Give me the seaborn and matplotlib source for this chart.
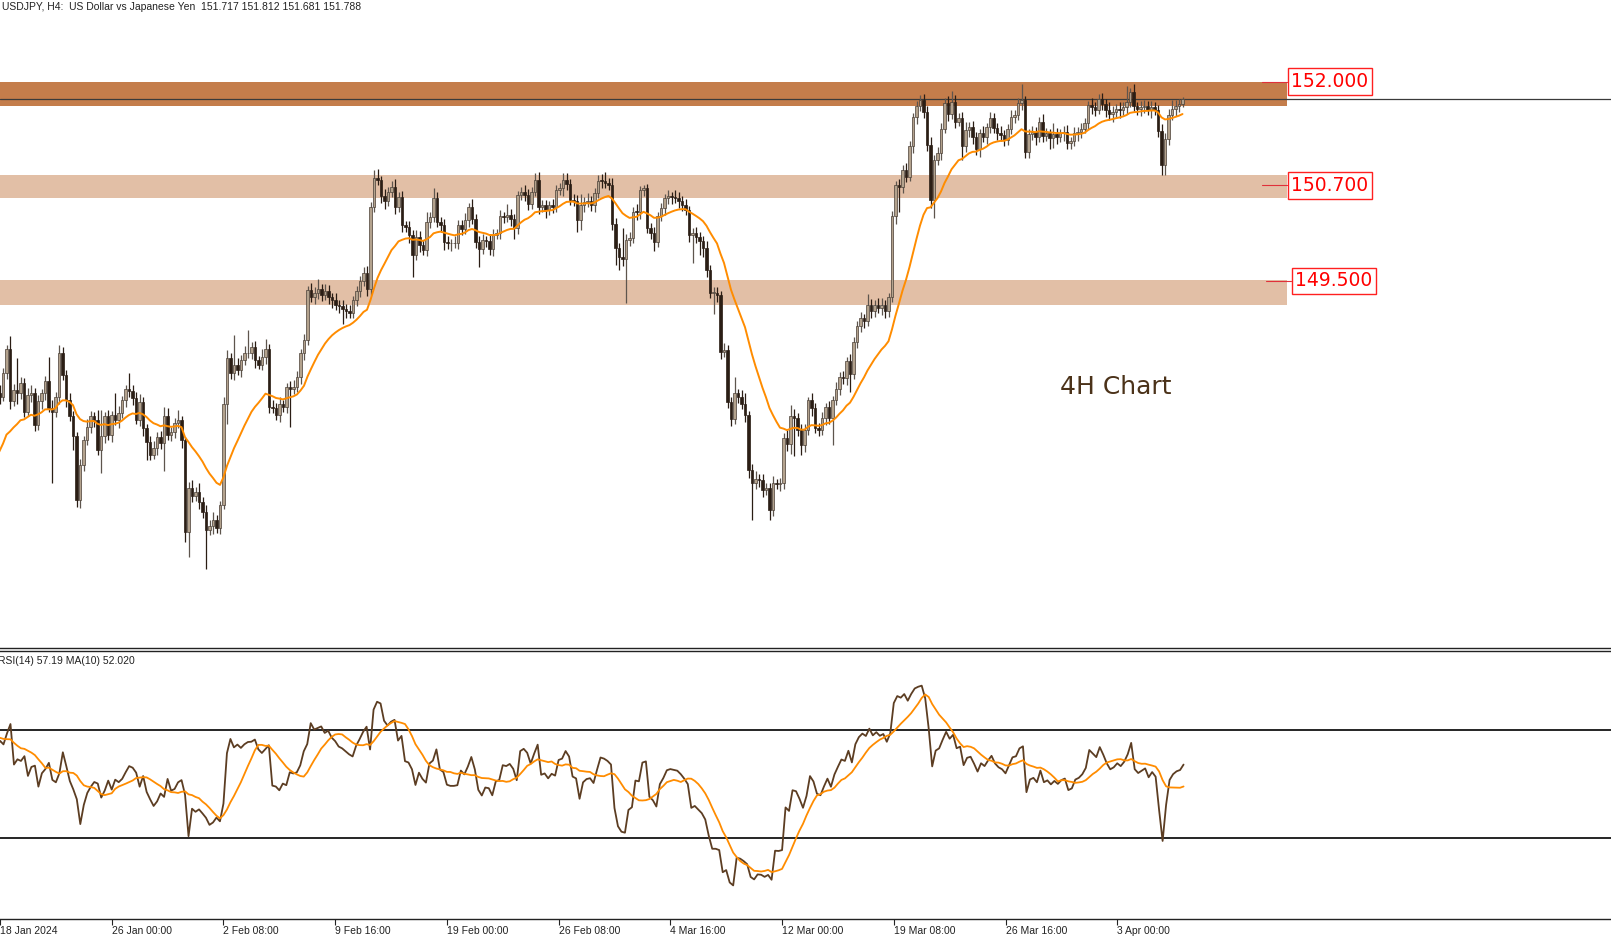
import matplotlib
matplotlib.use("Agg")
import matplotlib.pyplot as plt
import matplotlib.transforms as mtransforms
import numpy as np
import pandas as pd
import seaborn as sns

# USDJPY H4 closes, 18 Jan 16:00 -> 8 Apr 04:00 (one value per 4h bar)
# a few bars before the first visible one, only used to warm up the EMA / RSI
pre_close = [145.50, 145.30, 145.00, 144.90, 145.20, 144.80, 144.90, 145.10, 145.30, 145.50,
             145.60, 145.80, 145.70, 145.90, 146.30, 146.60, 147.00, 147.10, 147.20, 147.50,
             147.80, 147.90, 148.20, 148.10, 148.10, 148.00, 147.80, 147.70, 147.90]

close = [
    148.10, 148.05, 148.35, 148.65, 147.99, 148.13, 148.10, 148.22, 147.86, 148.07,
    148.10, 147.69, 147.99, 148.09, 148.24, 147.91, 147.86, 148.05, 148.59, 148.32,
    148.00, 147.80, 147.55, 146.75, 147.19, 147.50, 147.67, 147.80, 147.76, 147.38,
    147.55, 147.80, 147.57, 147.82, 147.76, 147.84, 148.00, 148.15, 148.12, 148.03,
    147.76, 147.98, 147.65, 147.48, 147.32, 147.40, 147.54, 147.47, 147.80, 147.57,
    147.60, 147.72, 147.76, 147.50, 146.35, 146.90, 146.80, 146.85, 146.73, 146.60,
    146.38, 146.42, 146.50, 146.40, 146.69, 147.96, 148.53, 148.34, 148.45, 148.38,
    148.51, 148.59, 148.60, 148.67, 148.51, 148.45, 148.55, 148.65, 147.92, 147.90,
    147.82, 147.95, 147.92, 148.17, 148.15, 148.17, 148.30, 148.59, 148.76, 149.39,
    149.30, 149.35, 149.40, 149.32, 149.38, 149.30, 149.26, 149.20, 149.18, 149.15,
    149.12, 149.10, 149.26, 149.37, 149.50, 149.60, 149.40, 150.43, 150.79, 150.77,
    150.56, 150.50, 150.62, 150.68, 150.43, 150.55, 150.20, 150.18, 150.08, 149.83,
    150.05, 149.95, 149.89, 150.24, 150.30, 150.54, 150.24, 150.20, 149.99, 149.97,
    149.97, 149.98, 150.20, 150.15, 150.27, 150.43, 150.28, 149.99, 149.90, 150.01,
    150.00, 149.90, 150.08, 150.10, 150.31, 150.30, 150.33, 150.28, 150.16, 150.58,
    150.62, 150.58, 150.47, 150.62, 150.77, 150.43, 150.45, 150.39, 150.45, 150.43,
    150.64, 150.66, 150.77, 150.72, 150.52, 150.50, 150.26, 150.45, 150.49, 150.50,
    150.45, 150.60, 150.76, 150.75, 150.73, 150.70, 150.22, 149.91, 149.80, 149.78,
    150.01, 150.04, 150.37, 150.36, 150.64, 150.66, 150.16, 150.10, 149.99, 150.31,
    150.41, 150.54, 150.56, 150.55, 150.54, 150.50, 150.45, 150.39, 150.08, 150.10,
    150.05, 150.00, 149.91, 149.64, 149.35, 149.35, 149.32, 148.61, 148.63, 147.98,
    147.77, 148.09, 148.05, 147.95, 147.82, 147.13, 146.96, 147.02, 147.00, 146.88,
    146.90, 146.63, 146.96, 146.95, 146.96, 147.53, 147.45, 147.80, 147.78, 147.63,
    147.44, 147.63, 148.00, 147.90, 147.66, 147.63, 147.78, 147.92, 147.78, 148.00,
    148.15, 148.30, 148.28, 148.49, 148.33, 148.74, 148.93, 149.03, 149.00, 149.20,
    149.12, 149.20, 149.16, 149.20, 149.12, 149.30, 150.31, 150.70, 150.68, 150.89,
    150.81, 151.19, 151.56, 151.69, 151.77, 151.62, 151.21, 150.52, 151.02, 151.10,
    151.41, 151.73, 151.60, 151.75, 151.50, 151.55, 151.19, 151.40, 151.43, 151.30,
    151.15, 151.35, 151.30, 151.43, 151.54, 151.42, 151.36, 151.33, 151.27, 151.41,
    151.56, 151.58, 151.73, 151.77, 151.12, 151.34, 151.37, 151.30, 151.50, 151.32,
    151.35, 151.29, 151.34, 151.30, 151.35, 151.37, 151.23, 151.25, 151.35, 151.37,
    151.41, 151.48, 151.71, 151.68, 151.65, 151.78, 151.72, 151.65, 151.60, 151.62,
    151.66, 151.64, 151.68, 151.75, 151.87, 151.69, 151.66, 151.68, 151.70, 151.64,
    151.68, 151.65, 151.38, 150.96, 151.28, 151.58, 151.66, 151.70, 151.717, 151.788,
]

# wick lengths above / below the body, in pips (0.01 JPY)
up_wick = [
    8, 10, 6, 5, 16, 8, 40, 7, 6, 9,
    10, 6, 8, 5, 7, 31, 9, 6, 11, 8,
    6, 9, 7, 5, 8, 6, 10, 7, 5, 12,
    33, 6, 8, 5, 27, 9, 6, 5, 19, 7,
    8, 10, 6, 5, 7, 9, 6, 8, 12, 10,
    7, 6, 12, 5, 4, 8, 10, 7, 12, 6,
    9, 8, 10, 6, 5, 8, 10, 6, 37, 8,
    6, 9, 28, 7, 8, 5, 9, 12, 6, 8,
    7, 10, 6, 5, 8, 9, 7, 6, 8, 5,
    9, 7, 12, 6, 8, 7, 5, 9, 6, 8,
    6, 8, 5, 7, 6, 8, 9, 6, 10, 12,
    5, 9, 6, 7, 10, 6, 8, 5, 7, 6,
    9, 8, 6, 13, 7, 12, 8, 6, 8, 7,
    6, 9, 7, 6, 8, 5, 10, 6, 7, 8,
    6, 9, 7, 5, 8, 6, 14, 7, 6, 5,
    6, 9, 7, 6, 8, 10, 6, 7, 5, 8,
    6, 7, 8, 9, 6, 7, 8, 14, 6, 10,
    7, 6, 7, 8, 12, 6, 9, 7, 6, 36,
    8, 7, 6, 9, 5, 4, 6, 7, 8, 6,
    7, 5, 8, 6, 9, 7, 6, 8, 5, 7,
    8, 6, 7, 9, 6, 8, 7, 5, 9, 6,
    7, 21, 6, 8, 14, 5, 7, 9, 6, 8,
    6, 7, 9, 5, 7, 6, 10, 14, 9, 6,
    7, 8, 5, 9, 7, 6, 8, 5, 7, 6,
    8, 6, 7, 5, 9, 6, 7, 8, 6, 14,
    7, 6, 8, 9, 6, 5, 7, 6, 8, 7,
    9, 6, 5, 7, 6, 8, 7, 9, 6, 8,
    7, 6, 9, 13, 8, 6, 7, 9, 6, 8,
    7, 6, 9, 5, 8, 7, 6, 9, 7, 6,
    8, 7, 6, 20, 5, 7, 8, 6, 6, 9,
    7, 6, 14, 8, 6, 7, 9, 5, 8, 6,
    7, 6, 5, 9, 6, 7, 8, 6, 9, 7,
    6, 8, 7, 19, 5, 10, 6, 8, 7, 6,
    8, 7, 6, 9, 7, 8, 11, 7, 6, 2,
]
low_wick = [
    7, 9, 6, 8, 10, 6, 15, 8, 7, 6,
    9, 7, 6, 10, 8, 6, 90, 7, 9, 6,
    8, 6, 17, 9, 10, 7, 6, 8, 9, 7,
    29, 8, 6, 9, 7, 10, 6, 8, 7, 9,
    6, 8, 10, 23, 7, 6, 9, 8, 36, 6,
    8, 7, 6, 9, 12, 31, 7, 6, 9, 8,
    49, 7, 9, 6, 8, 5, 25, 7, 8, 6,
    9, 7, 6, 8, 10, 6, 7, 9, 8, 6,
    7, 9, 6, 8, 48, 7, 6, 9, 8, 7,
    6, 9, 8, 7, 6, 9, 10, 7, 8, 19,
    9, 7, 6, 8, 7, 6, 9, 8, 6, 7,
    8, 10, 6, 7, 9, 6, 8, 7, 10, 28,
    7, 9, 6, 8, 7, 6, 6, 8, 10, 7,
    9, 6, 8, 7, 6, 9, 7, 8, 22, 6,
    8, 7, 9, 6, 8, 7, 6, 9, 13, 7,
    6, 8, 8, 7, 6, 9, 7, 10, 6, 8,
    7, 6, 9, 8, 7, 6, 14, 12, 8, 6,
    7, 9, 6, 8, 7, 6, 8, 21, 16, 9,
    56, 7, 6, 9, 8, 7, 6, 8, 12, 7,
    6, 8, 7, 9, 6, 8, 7, 6, 9, 36,
    8, 17, 11, 9, 7, 26, 8, 9, 7, 8,
    9, 7, 8, 6, 9, 10, 46, 7, 8, 9,
    7, 13, 8, 6, 9, 7, 8, 12, 48, 7,
    12, 8, 6, 9, 7, 8, 6, 9, 7, 34,
    6, 8, 7, 9, 22, 6, 8, 7, 9, 6,
    8, 7, 6, 9, 8, 7, 6, 9, 31, 8,
    7, 6, 8, 9, 6, 7, 8, 11, 23, 7,
    8, 6, 9, 7, 8, 6, 17, 7, 9, 8,
    7, 9, 6, 8, 7, 6, 9, 7, 8, 6,
    7, 8, 6, 9, 8, 8, 7, 9, 6, 8,
    7, 13, 12, 8, 6, 9, 7, 8, 6, 9,
    8, 6, 7, 9, 8, 6, 7, 9, 8, 10,
    7, 9, 6, 8, 7, 6, 8, 9, 7, 6,
    9, 7, 8, 13, 13, 7, 6, 9, 8, 4,
]

date_ticks = [0, 32, 64, 96, 128, 160, 192, 224, 256, 288, 320]
date_labels = ["18 Jan 2024", "26 Jan 00:00", "2 Feb 08:00", "9 Feb 16:00", "19 Feb 00:00",
               "26 Feb 08:00", "4 Mar 16:00", "12 Mar 00:00", "19 Mar 08:00",
               "26 Mar 16:00", "3 Apr 00:00"]

# support / resistance zones (low, high) and their labels
zone_low = [151.69, 150.54, 149.20]
zone_high = [152.00, 150.83, 149.51]
zone_label = [152.000, 150.700, 149.500]
last_price = 151.788
title_txt = "USDJPY, H4:  US Dollar vs Japanese Yen  151.717 151.812 151.681 151.788"
rsi_txt = "RSI(14) 57.19 MA(10) 52.020"

# ---- indicators
c = np.array(close)
o = np.r_[pre_close[-1], c[:-1]]
hi = np.maximum(o, c) + np.array(up_wick) / 100
lo = np.minimum(o, c) - np.array(low_wick) / 100
x = np.arange(len(c))

allc = pd.Series(pre_close + close)
allx = np.arange(-len(pre_close), len(close))
ema = allc.ewm(span=20, adjust=False).mean()
d = allc.diff()
gain = d.clip(lower=0).ewm(alpha=1 / 14, adjust=False).mean()
loss = (-d.clip(upper=0)).ewm(alpha=1 / 14, adjust=False).mean()
rsi = 100 - 100 / (1 + gain / loss)
rsi_ma = rsi.rolling(10).mean()

sns.set_theme(style="white")
plt.rcParams["font.family"] = ["DejaVu Sans"]

W, H = 1611, 938
fig = plt.figure(figsize=(W / 100, H / 100), dpi=100)
ax = fig.add_axes([0, (H - 648) / H, 1, 648 / H])
ax2 = fig.add_axes([0, (H - 919) / H, 1, (919 - 651) / H])

xl = ((0 + 4) / 3.5, (W + 4) / 3.5)
ax.set_xlim(*xl)
ax.set_ylim(153.025 - 648 / 79.7, 153.025)
ax2.set_xlim(*xl)
ax2.set_ylim(0, (919 - 651) / 2.7)

# zones
zx = 1287 / W
for zl, zh, col in zip(zone_low, zone_high, ["#c47d4b", "#e2bfa6", "#e2bfa6"]):
    ax.axhspan(zl, zh, xmin=0, xmax=zx, color=col, lw=0, zorder=0)
ax.axhline(last_price, color="#3a3a3a", lw=0.9, zorder=1)

# candles
bull = c >= o
body_lo = np.minimum(o, c)
body_h = np.maximum(np.abs(c - o), 0.012)
ax.vlines(x[bull], lo[bull], hi[bull], colors="#5e554d", lw=0.9, zorder=2)
ax.vlines(x[~bull], lo[~bull], hi[~bull], colors="#2a1d14", lw=0.9, zorder=2)
ax.bar(x[bull], body_h[bull], bottom=body_lo[bull], width=0.72, color="#b3a28d",
       edgecolor="#4a3f36", linewidth=0.5, zorder=3)
ax.bar(x[~bull], body_h[~bull], bottom=body_lo[~bull], width=0.72, color="#2b1e15",
       edgecolor="#2b1e15", linewidth=0.5, zorder=3)

sns.lineplot(x=allx, y=ema.values, ax=ax, color="#ff8c00", linewidth=1.4, zorder=4)

# level labels
tr = mtransforms.blended_transform_factory(ax.transAxes, ax.transData)
for lv, xs in zip(zone_label, [1287, 1287, 1291]):
    ax.plot([(xs - 25) / W, xs / W], [lv, lv], color="#e0303a", lw=0.8, transform=tr,
            zorder=5, clip_on=False)
    ax.text((xs + 43) / W, lv, f"{lv:.3f}", transform=tr, ha="center", va="center",
            fontsize=13.5, color="#ff0000", zorder=6,
            bbox=dict(boxstyle="square,pad=0.2", fc="white", ec="#ff2020", lw=1.0))

ax.text(1116 / W, 153.025 - 387 / 79.7, "4H Chart", transform=tr, ha="center",
        va="center", fontsize=18, color="#4b3219")

for a in (ax, ax2):
    a.set_xticks([])
    a.set_yticks([])
    for s in a.spines.values():
        s.set_visible(False)
ax.spines["bottom"].set_visible(True)
ax.spines["bottom"].set_color("#222222")
ax.spines["bottom"].set_linewidth(1.0)

# RSI panel
ax2.axhline(70, color="black", lw=1.2)
ax2.axhline(30, color="black", lw=1.2)
sns.lineplot(x=allx, y=rsi.values, ax=ax2, color="#5c3d22", linewidth=1.3, zorder=3)
sns.lineplot(x=allx, y=rsi_ma.values, ax=ax2, color="#ff8c00", linewidth=1.3, zorder=4)
ax2.spines["top"].set_visible(True)
ax2.spines["bottom"].set_visible(True)
for s in ("top", "bottom"):
    ax2.spines[s].set_color("#222222")
    ax2.spines[s].set_linewidth(1.0)
ax2.set_xticks(date_ticks)
ax2.set_xticklabels(date_labels, ha="left", fontsize=7.5, family="Liberation Sans",
                    color="#222222")
ax2.tick_params(axis="x", direction="out", length=4, width=0.8, pad=1, colors="#222222",
                bottom=True)
ax2.set_xlabel("")
ax2.set_ylabel("")
ax.set_xlabel("")
ax.set_ylabel("")

fig.text(0.001, 1 - 7 / H, title_txt, fontsize=7.5, family="Liberation Sans",
         color="#222222", va="center", ha="left")
fig.text(-0.001, 1 - 661 / H, rsi_txt, fontsize=7.5, family="Liberation Sans",
         color="#222222", va="center", ha="left")

fig.savefig("out.png", dpi=100)
